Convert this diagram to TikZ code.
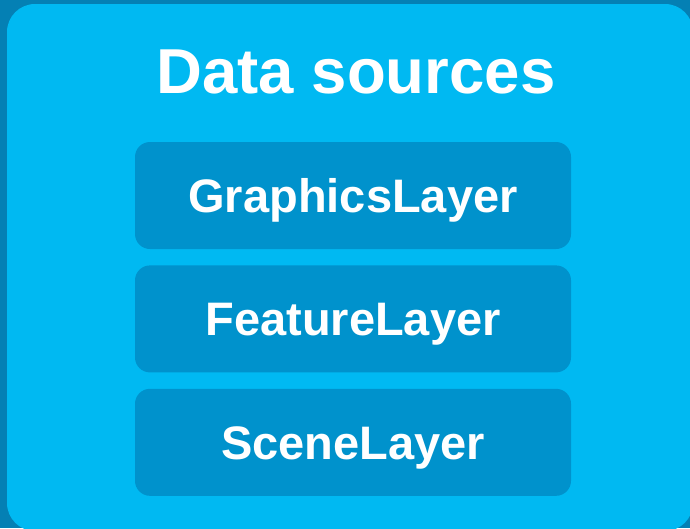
\documentclass[tikz,border=0pt]{standalone}
\usepackage{fontspec}
\setmainfont{Liberation Sans}
\usetikzlibrary{positioning}
\definecolor{deep}{RGB}{4,128,180}
\definecolor{sky}{RGB}{0,185,242}
\definecolor{layerfill}{RGB}{0,146,204}

\begin{document}
\begin{tikzpicture}[
  x=1pt, y=-1pt,
  panel/.style={fill=sky, rounded corners=28pt},
  heading/.style={text=white, font=\fontsize{63.5}{70}\selectfont\bfseries, anchor=base},
  layerbox/.style={fill=layerfill, rounded corners=15pt, text=white,
    minimum width=436pt, minimum height=107pt, text height=34pt, text depth=0pt,
    inner sep=0pt, font=\fontsize{47}{56}\selectfont\bfseries},
]
% ---------------------------------------------------------------- frame
\fill[deep] (0,0) rectangle (690,528);
\useasboundingbox (0,0) rectangle (690,528);
\fill[panel] (7,4) rectangle (693,531);

% ---------------------------------------------------------------- nodes
\node[heading] (title) at (356,93.5) {Data sources};
\node[layerbox] (graphics) at (353,195.5) {GraphicsLayer};
\node[layerbox, below=16pt of graphics] (feature) {FeatureLayer};
\node[layerbox, below=16pt of feature] (scene) {SceneLayer};
\end{tikzpicture}
\end{document}
